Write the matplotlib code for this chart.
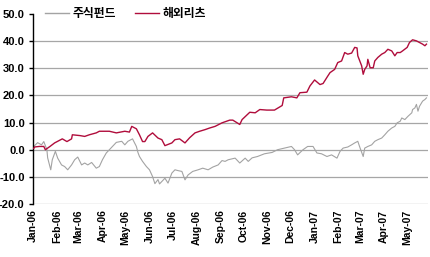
import matplotlib
matplotlib.use("Agg")
import matplotlib.pyplot as plt
import matplotlib.dates as mdates
import pandas as pd

# ---- data ----
series_names = ["주식펀드", "해외리츠"]

reits_dates = ["2006-01-02","2006-01-03","2006-01-09","2006-01-15","2006-01-17","2006-01-23",
    "2006-01-29","2006-02-08","2006-02-14","2006-02-20","2006-02-21","2006-03-03","2006-03-09",
    "2006-03-15","2006-03-24","2006-03-28","2006-04-10","2006-04-19","2006-04-30","2006-05-06",
    "2006-05-09","2006-05-15","2006-05-19","2006-05-23","2006-05-26","2006-05-30","2006-06-05",
    "2006-06-12","2006-06-17","2006-06-21","2006-06-30","2006-07-04","2006-07-10","2006-07-17",
    "2006-07-23","2006-07-30","2006-08-05","2006-08-12","2006-08-18","2006-08-25","2006-09-03",
    "2006-09-13","2006-09-17","2006-09-26","2006-09-29","2006-10-09","2006-10-16","2006-10-22",
    "2006-10-31","2006-11-10","2006-11-20","2006-11-22","2006-12-02","2006-12-09","2006-12-13",
    "2006-12-22","2006-12-26","2007-01-01","2007-01-08","2007-01-12","2007-01-18","2007-01-21",
    "2007-01-27","2007-01-31","2007-02-05","2007-02-09","2007-02-13","2007-02-18","2007-02-22",
    "2007-02-25","2007-02-26","2007-03-03","2007-03-05","2007-03-07","2007-03-10","2007-03-11",
    "2007-03-14","2007-03-18","2007-03-20","2007-03-24","2007-03-29","2007-04-02","2007-04-06",
    "2007-04-11","2007-04-15","2007-04-18","2007-04-22","2007-04-25","2007-05-01","2007-05-04",
    "2007-05-08","2007-05-13","2007-05-17","2007-05-21","2007-05-24","2007-05-26"]
reits_values = [0.5, 1.0, 1.2, 1.2, 0.0, 1.2,
    2.5, 4.0, 3.0, 4.0, 5.5, 5.2, 4.9,
    5.5, 6.2, 6.8, 6.8, 6.2, 6.8, 6.5,
    8.6, 7.7, 5.5, 3.0, 3.0, 4.9, 6.2,
    4.3, 3.7, 1.5, 2.5, 3.7, 4.0, 2.5,
    4.4, 6.2, 6.8, 7.4, 8.0, 8.6, 9.9,
    10.9, 10.9, 9.3, 11.1, 13.8, 13.6, 14.8,
    14.6, 14.6, 16.3, 19.1, 19.5, 19.1, 21.0,
    21.2, 23.5, 25.7, 24.0, 24.4, 27.1, 28.4,
    29.6, 32.1, 32.7, 35.8, 35.2, 35.6, 37.7,
    37.5, 34.6, 30.9, 27.8, 29.6, 30.9, 33.3,
    30.2, 30.2, 32.7, 34.0, 35.2, 35.8, 37.0,
    36.4, 34.6, 35.8, 35.8, 36.4, 37.7, 39.5,
    40.5, 40.1, 39.5, 38.9, 38.3, 38.9]

stock_dates = ["2006-01-02","2006-01-03","2006-01-07","2006-01-12","2006-01-15","2006-01-19",
    "2006-01-20","2006-01-24","2006-01-26","2006-01-30","2006-02-02","2006-02-07","2006-02-11",
    "2006-02-15","2006-02-20","2006-02-24","2006-02-28","2006-03-05","2006-03-09","2006-03-13",
    "2006-03-18","2006-03-24","2006-03-28","2006-04-01","2006-04-06","2006-04-10","2006-04-14",
    "2006-04-19","2006-04-26","2006-04-30","2006-05-04","2006-05-10","2006-05-15","2006-05-17",
    "2006-05-19","2006-05-23","2006-05-28","2006-06-01","2006-06-05","2006-06-08","2006-06-12",
    "2006-06-14","2006-06-17","2006-06-21","2006-06-25","2006-06-30","2006-07-04","2006-07-08",
    "2006-07-13","2006-07-17","2006-07-21","2006-07-27","2006-08-03","2006-08-09","2006-08-16",
    "2006-08-22","2006-08-29","2006-09-03","2006-09-07","2006-09-11","2006-09-20","2006-09-26",
    "2006-10-03","2006-10-07","2006-10-12","2006-10-19","2006-10-28","2006-11-07","2006-11-14",
    "2006-11-23","2006-12-02","2006-12-06","2006-12-10","2006-12-17","2006-12-23","2006-12-30",
    "2007-01-04","2007-01-10","2007-01-17","2007-01-23","2007-01-30","2007-02-03","2007-02-07",
    "2007-02-13","2007-02-18","2007-02-22","2007-02-26","2007-03-01","2007-03-05","2007-03-07",
    "2007-03-11","2007-03-16","2007-03-20","2007-03-24","2007-03-29","2007-04-02","2007-04-06",
    "2007-04-11","2007-04-15","2007-04-18","2007-04-22","2007-04-24","2007-04-28","2007-05-02",
    "2007-05-07","2007-05-08","2007-05-11","2007-05-13","2007-05-15","2007-05-17","2007-05-21",
    "2007-05-24","2007-05-26"]
stock_values = [0.7, 1.5, 2.6, 1.8, 3.0, 0.0,
    -3.0, -7.4, -3.7, -0.6, -3.1, -5.6, -6.2,
    -7.4, -5.6, -3.7, -2.7, -5.6, -4.9, -5.6,
    -4.7, -6.8, -6.2, -3.7, -1.2, 0.0, 1.2,
    2.7, 3.1, 1.8, 3.1, 4.0, 1.2, -1.0,
    -2.5, -4.3, -6.2, -7.4, -9.9, -12.5, -11.0,
    -12.6, -11.7, -10.5, -12.3, -8.6, -7.4, -7.7,
    -8.0, -11.1, -9.3, -8.0, -7.4, -6.8, -7.4,
    -6.4, -5.6, -4.0, -4.3, -3.7, -3.1, -4.9,
    -3.1, -4.3, -3.0, -2.5, -1.5, -1.0, 0.0,
    0.6, 1.2, 0.0, -1.9, 0.0, 1.2, 1.2,
    -1.2, -1.5, -2.5, -1.9, -3.1, -0.6, 0.6,
    1.0, 1.8, 2.5, 3.1, 0.6, -2.5, 0.6,
    1.2, 1.8, 3.1, 3.7, 4.3, 5.5, 6.8,
    8.0, 8.6, 9.9, 10.5, 11.7, 11.1, 12.3,
    13.6, 14.8, 15.4, 16.7, 14.2, 16.0, 17.9,
    18.5, 19.1]

y_ticks = [-20, -10, 0, 10, 20, 30, 40, 50]
grid_levels = [-20, -10, 0, 10, 20, 30, 40]
x_start, x_end = "2006-01-01", "2007-05-28"

# ---- figure ----
W, H = 430, 257
fig = plt.figure(figsize=(W / 100, H / 100), dpi=100)
ax = fig.add_axes([33 / W, 1 - 204 / H, (428 - 33) / W, (204 - 14) / H])

grid_col = "#a6a6a6"
for g in grid_levels:
    ax.axhline(g, color=grid_col, lw=0.9, zorder=1)

l1, = ax.plot(pd.to_datetime(stock_dates), stock_values, color="#a3a3a3", lw=0.8, zorder=2)
l2, = ax.plot(pd.to_datetime(reits_dates), reits_values, color="#b00d3c", lw=1.0, zorder=3)

ax.set_ylim(-20, 50)
ax.set_xlim(pd.Timestamp(x_start), pd.Timestamp(x_end))
ax.set_yticks(y_ticks)
ax.set_yticklabels([f"{v:.1f}" for v in y_ticks])

ax.xaxis.set_major_locator(mdates.MonthLocator())
ax.xaxis.set_major_formatter(mdates.DateFormatter("%b-%y"))

for s in ["top", "right", "bottom"]:
    ax.spines[s].set_visible(False)
ax.spines["left"].set_color("black")
ax.spines["left"].set_linewidth(1.0)

ax.tick_params(axis="y", direction="out", length=3, width=1.0, pad=3, colors="black")
ax.tick_params(axis="x", length=0, pad=4)
for lab in ax.get_yticklabels():
    lab.set_fontfamily("Liberation Sans")
    lab.set_fontweight("bold")
    lab.set_fontsize(8)
for lab in ax.get_xticklabels():
    lab.set_fontfamily("Liberation Sans")
    lab.set_fontweight("bold")
    lab.set_fontsize(7.5)
    lab.set_rotation(90)
    lab.set_ha("center")
    lab.set_va("top")

leg = ax.legend([l1, l2], series_names, loc="center left",
                bbox_to_anchor=(45 / W, 1 - 14 / H), bbox_transform=fig.transFigure,
                ncol=2, frameon=False, borderpad=0, borderaxespad=0,
                handlelength=2.0, handletextpad=0.35, columnspacing=1.6,
                prop={"family": ["Noto Sans CJK KR", "DejaVu Sans"], "weight": "bold", "size": 8.5})
for line in leg.get_lines():
    line.set_linewidth(1.0)

fig.savefig("out.png", dpi=100)
